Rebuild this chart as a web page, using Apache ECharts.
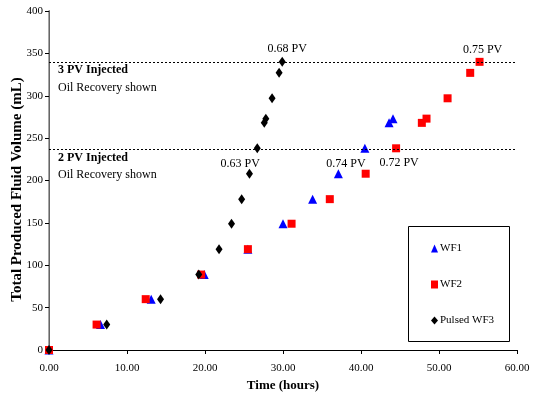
<!DOCTYPE html>
<html>
<head>
<meta charset="utf-8">
<script src="https://cdn.jsdelivr.net/npm/echarts@6/dist/echarts.min.js"></script>
<style>
  html, body { margin: 0; padding: 0; background: #fff; }
  #chart { width: 534px; height: 399px; }
</style>
</head>
<body>
<div id="chart"></div>
<script>
// time (hours) and produced volume (mL)
const wf1Time = [0, 6.6, 13.1, 19.9, 25.5, 30.0, 33.8, 37.1, 40.5, 43.6, 44.1]
const wf1Vol = [0, 30, 60, 89, 119, 149, 178, 208, 238, 268, 273]
const wf2Time = [0, 6.1, 12.4, 19.5, 25.5, 31.1, 36.0, 40.6, 44.5, 47.8, 48.4, 51.1, 54.0, 55.2]
const wf2Vol = [0, 30, 60, 89, 119, 149, 178, 208, 238, 268, 273, 297, 327, 340]
const wf3Time = [0, 7.4, 14.3, 19.2, 21.8, 23.4, 24.7, 25.7, 26.7, 27.6, 27.8, 28.6, 29.5, 29.9]
const wf3Vol = [0, 30, 60, 89, 119, 149, 178, 208, 238, 268, 273, 297, 327, 340]

const pvLines = [340, 237]
const pvLineText = ['3 PV Injected', '2 PV Injected']

// recovery labels: [series, point index, text, position, dx]
const pvLabels = [
  ['WF3', 13, '0.68 PV', 'top', 5],
  ['WF3', 8, '0.63 PV', 'bottom', -17],
  ['WF1', 8, '0.74 PV', 'bottom', -19],
  ['WF2', 8, '0.72 PV', 'bottom', 3],
  ['WF2', 13, '0.75 PV', 'top', 3],
]

const FONT = '"Liberation Serif", "Times New Roman", serif'

function buildData(name, xs, ys) {
  return xs.map((x, i) => {
    const lab = pvLabels.find((l) => l[0] === name && l[1] === i)
    if (!lab) return [x, ys[i]]
    return {
      value: [x, ys[i]],
      label: {
        show: true,
        formatter: lab[2],
        position: lab[3],
        distance: lab[3] === 'top' ? 2 : 5,
        offset: [lab[4], 0],
        color: '#000',
        fontFamily: FONT,
        fontSize: 12,
      },
    }
  })
}

const chart = echarts.init(document.getElementById('chart'))

const option = {
  animation: false,
  textStyle: { fontFamily: FONT },
  grid: { left: 49, right: 17, top: 11, bottom: 49, outerBoundsMode: 'none', containLabel: false },
  graphic: [
    {
      type: 'rect',
      left: 408,
      top: 226,
      shape: { width: 101, height: 115 },
      style: { fill: '#fff', stroke: '#000', lineWidth: 1 },
      z: 1,
    },
  ],
  legend: {
    orient: 'vertical',
    left: 426,
    top: 238,
    itemGap: 25,
    itemWidth: 7,
    itemHeight: 8,
    itemStyle: { borderWidth: 0, opacity: 1 },
    textStyle: { fontFamily: FONT, fontSize: 11, color: '#000', padding: [0, 0, 0, -3] },
    data: [
      { name: 'WF1', icon: 'triangle' },
      { name: 'WF2', icon: 'rect' },
      { name: 'Pulsed WF3', icon: 'diamond' },
    ],
    z: 5,
  },
  xAxis: [
    {
      type: 'value',
      min: 0,
      max: 60,
      interval: 10,
      name: 'Time (hours)',
      nameLocation: 'middle',
      nameGap: 28,
      nameTextStyle: { fontFamily: FONT, fontSize: 13, fontWeight: 'bold', color: '#000' },
      axisLine: { show: true, onZero: false, lineStyle: { color: '#000', width: 1 } },
      axisTick: { show: true, inside: false, length: 4, lineStyle: { color: '#000' } },
      axisLabel: {
        margin: 13,
        color: '#000',
        fontFamily: FONT,
        fontSize: 11,
        formatter: (v) => v.toFixed(2),
      },
      splitLine: { show: false },
    },
    {
      type: 'value',
      position: 'top',
      min: 0,
      max: 60,
      axisLine: { show: true, lineStyle: { color: '#000', width: 1 } },
      axisTick: { show: false },
      axisLabel: { show: false },
      splitLine: { show: false },
    },
  ],
  yAxis: [
    {
      type: 'value',
      min: 0,
      max: 400,
      interval: 50,
      name: 'Total Produced Fluid Volume (mL)',
      nameLocation: 'middle',
      nameGap: 24,
      nameMoveOverlap: false,
      nameTextStyle: {
        fontFamily: FONT,
        fontSize: 15,
        fontWeight: 'bold',
        color: '#000',
        padding: [0, 18, 0, 0],
      },
      axisLine: { show: true, onZero: false, lineStyle: { color: '#000', width: 1 } },
      axisTick: { show: true, inside: false, length: 4, lineStyle: { color: '#000' } },
      axisLabel: { margin: 6, color: '#000', fontFamily: FONT, fontSize: 11 },
      splitLine: { show: false },
    },
    {
      type: 'value',
      position: 'right',
      min: 0,
      max: 400,
      axisLine: { show: true, lineStyle: { color: '#888', width: 1.5 } },
      axisTick: { show: false },
      axisLabel: { show: false },
      splitLine: { show: false },
    },
  ],
  series: [
    {
      name: 'WF1',
      type: 'scatter',
      symbol: 'triangle',
      symbolSize: [9, 9],
      itemStyle: { color: '#0000ff', opacity: 1 },
      data: buildData('WF1', wf1Time, wf1Vol),
      z: 2,
    },
    {
      name: 'WF2',
      type: 'scatter',
      symbol: 'rect',
      symbolSize: [8, 8],
      itemStyle: { color: '#ff0000', opacity: 1 },
      data: buildData('WF2', wf2Time, wf2Vol),
      z: 3,
    },
    {
      name: 'Pulsed WF3',
      type: 'scatter',
      symbol: 'diamond',
      symbolSize: [7, 10],
      itemStyle: { color: '#000', opacity: 1 },
      data: buildData('WF3', wf3Time, wf3Vol),
      z: 4,
      markLine: {
        silent: true,
        symbol: 'none',
        lineStyle: { color: '#000', type: [2, 2], width: 1 },
        label: {
          show: true,
          position: 'insideStartBottom',
          distance: [9, 0],
          align: 'left',
          fontFamily: FONT,
          color: '#000',
          lineHeight: 17,
          rich: {
            b: { fontFamily: FONT, fontSize: 12, fontWeight: 'bold', color: '#000', lineHeight: 17 },
            n: { fontFamily: FONT, fontSize: 12, color: '#000', lineHeight: 17 },
          },
        },
        data: pvLines.map((v, i) => ({
          yAxis: v,
          label: { formatter: '{b|' + pvLineText[i] + '}\n{n|Oil Recovery shown}' },
        })),
      },
    },
  ],
}

chart.setOption(option)
</script>
</body>
</html>
